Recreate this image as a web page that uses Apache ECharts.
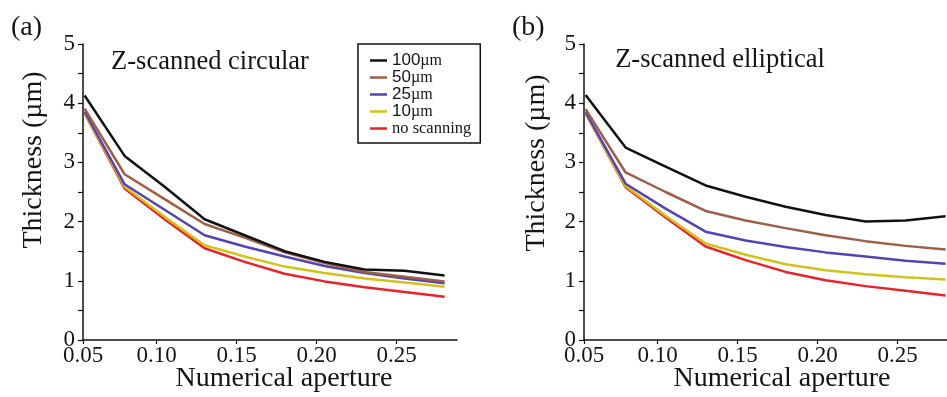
<!DOCTYPE html>
<html>
<head>
<meta charset="utf-8">
<script src="https://cdn.jsdelivr.net/npm/echarts@6/dist/echarts.min.js"></script>
<style>
html,body{margin:0;padding:0;background:#fff;}
#c{width:947px;height:397px;}
</style>
</head>
<body>
<div id="c"></div>
<script>
// ---- data ----
const seriesNames = ['100µm', '50µm', '25µm', '10µm', 'no scanning'];
const NA = [0.055, 0.08, 0.105, 0.13, 0.155, 0.18, 0.205, 0.23, 0.255, 0.28];

// (a) Z-scanned circular
const circ100 = [4.13, 3.11, 2.59, 2.04, 1.77, 1.50, 1.32, 1.19, 1.17, 1.09];
const circ50  = [3.91, 2.80, 2.38, 1.96, 1.73, 1.48, 1.30, 1.15, 1.07, 0.99];
const circ25  = [3.86, 2.63, 2.20, 1.77, 1.58, 1.41, 1.25, 1.13, 1.04, 0.96];
const circ10  = [3.84, 2.59, 2.08, 1.60, 1.41, 1.24, 1.13, 1.04, 0.97, 0.90];
const circNo  = [3.83, 2.56, 2.04, 1.55, 1.32, 1.12, 0.99, 0.89, 0.81, 0.73];

// (b) Z-scanned elliptical
const ell100 = [4.14, 3.25, 2.93, 2.61, 2.42, 2.25, 2.11, 2.00, 2.02, 2.09];
const ell50  = [3.90, 2.83, 2.50, 2.18, 2.02, 1.89, 1.77, 1.67, 1.59, 1.53];
const ell25  = [3.85, 2.64, 2.22, 1.83, 1.68, 1.57, 1.48, 1.41, 1.34, 1.29];
const ell10  = [3.83, 2.60, 2.10, 1.63, 1.44, 1.28, 1.18, 1.11, 1.06, 1.02];
const ellNo  = [3.83, 2.58, 2.07, 1.58, 1.35, 1.15, 1.01, 0.91, 0.83, 0.75];

const xTickValues = [0.054, 0.10, 0.15, 0.20, 0.25];
const xTickLabels = ['0.05', '0.10', '0.15', '0.20', '0.25'];
const yTickLabels = ['0', '1', '2', '3', '4', '5'];

// ---- styling ----
const colors = ['#111111', '#9e5f47', '#5344b0', '#d3c21b', '#e8232b'];
const serif = 'Liberation Serif';
const sans = 'Liberation Sans';
const ink = '#151515';

function pairs(ys) { return NA.map((x, i) => [x, ys[i]]); }

function mkX(idx, max) {
  return {
    type: 'value', gridIndex: idx, min: 0.054, max: max,
    axisLine: { show: true, lineStyle: { color: '#111', width: 1.5 } },
    axisTick: { show: true, length: 4, customValues: xTickValues, lineStyle: { color: '#111', width: 1.2 } },
    axisLabel: {
      customValues: xTickValues, showMinLabel: true, margin: 4,
      formatter: v => xTickLabels[xTickValues.findIndex(t => Math.abs(t - v) < 1e-6)] || '',
      color: ink, fontFamily: serif, fontSize: 23
    },
    splitLine: { show: false }
  };
}
function mkY(idx) {
  return {
    type: 'value', gridIndex: idx, min: 0, max: 5, interval: 0.5,
    axisLine: { show: true, lineStyle: { color: '#111', width: 1.5 } },
    axisTick: { show: true, length: 5, lineStyle: { color: '#111', width: 1.2 } },
    axisLabel: {
      margin: 8, color: ink, fontFamily: serif, fontSize: 23,
      formatter: v => Number.isInteger(v) ? yTickLabels[v] : ''
    },
    splitLine: { show: false }
  };
}
function mkSeries(idx, arrs) {
  return arrs.map((a, i) => ({
    name: seriesNames[i], type: 'line', xAxisIndex: idx, yAxisIndex: idx,
    data: pairs(a), showSymbol: false, symbol: 'none',
    lineStyle: { color: colors[i], width: 2.5 }, itemStyle: { color: colors[i] },
    z: 10 - i, animation: false
  }));
}

const chart = echarts.init(document.getElementById('c'), null, { renderer: 'canvas' });
const option = {
  animation: false,
  backgroundColor: '#fff',
  grid: [
    { left: 83, top: 44, width: 374, height: 296 },
    { left: 584, top: 44, width: 363, height: 296 }
  ],
  xAxis: [mkX(0, 0.054 + 374 / 1600), mkX(1, 0.054 + 363 / 1600)],
  yAxis: [mkY(0), mkY(1)],
  legend: {
    data: seriesNames, orient: 'vertical', left: 358, top: 44,
    icon: 'rect', itemWidth: 17, itemHeight: 2.5, itemGap: 0, itemTextGap: 1,
    padding: [8, 9, 6, 12], borderColor: '#111', borderWidth: 1.5,
    backgroundColor: '#fff', selectedMode: false,
    formatter: name => {
      const m = name.match(/^(\d+)µm$/);
      return m ? '{s|' + m[1] + '}{m|µm}' : '{t|' + name + '}';
    },
    textStyle: {
      color: ink, fontSize: 16, lineHeight: 17,
      rich: {
        s: { fontFamily: sans, fontSize: 17, color: ink, lineHeight: 17 },
        m: { fontFamily: serif, fontSize: 16, color: ink, lineHeight: 17 },
        t: { fontFamily: serif, fontSize: 16.5, color: ink, lineHeight: 17 }
      }
    }
  },
  graphic: [
    { type: 'text', left: 11, top: 14, style: { text: '(a)', font: '28px "Liberation Serif"', fill: ink } },
    { type: 'text', left: 512, top: 14, style: { text: '(b)', font: '28px "Liberation Serif"', fill: ink } },
    { type: 'text', x: 210, y: 62,
      style: { text: 'Z-scanned circular', font: '26.5px "Liberation Serif"', fill: ink, align: 'center', verticalAlign: 'middle' } },
    { type: 'text', x: 720, y: 60,
      style: { text: 'Z-scanned elliptical', font: '26.5px "Liberation Serif"', fill: ink, align: 'center', verticalAlign: 'middle' } },
    { type: 'text', x: 34, y: 160, rotation: Math.PI / 2,
      style: { text: 'Thickness (µm)', font: '28px "Liberation Serif"', fill: ink, align: 'center', verticalAlign: 'middle' } },
    { type: 'text', x: 537, y: 163, rotation: Math.PI / 2,
      style: { text: 'Thickness (µm)', font: '28px "Liberation Serif"', fill: ink, align: 'center', verticalAlign: 'middle' } },
    { type: 'text', x: 284, y: 379,
      style: { text: 'Numerical aperture', font: '28px "Liberation Serif"', fill: ink, align: 'center', verticalAlign: 'middle' } },
    { type: 'text', x: 782, y: 379,
      style: { text: 'Numerical aperture', font: '28px "Liberation Serif"', fill: ink, align: 'center', verticalAlign: 'middle' } }
  ],
  series: [
    ...mkSeries(0, [circ100, circ50, circ25, circ10, circNo]),
    ...mkSeries(1, [ell100, ell50, ell25, ell10, ellNo])
  ]
};
chart.setOption(option);
</script>
</body>
</html>
